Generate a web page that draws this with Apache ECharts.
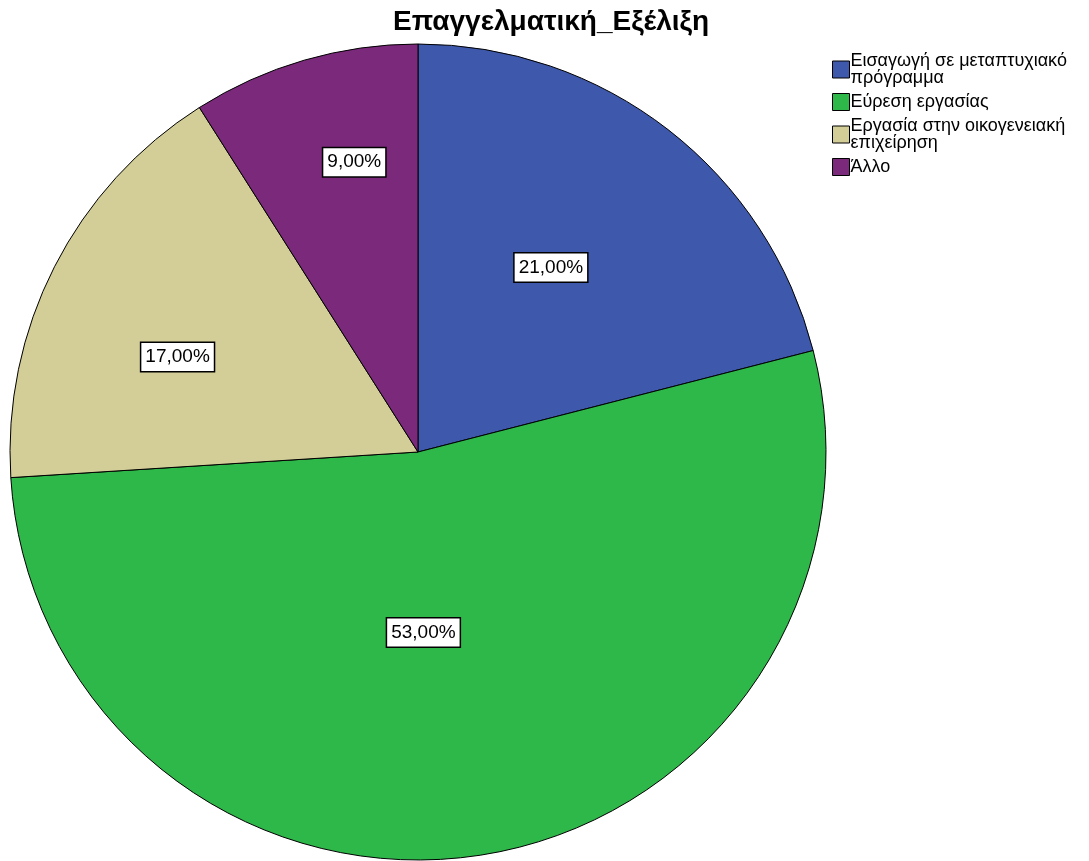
<!DOCTYPE html>
<html><head><meta charset="utf-8">
<script src="https://cdn.jsdelivr.net/npm/echarts@6/dist/echarts.min.js"></script>
<style>html,body{margin:0;padding:0;background:#fff}#c{width:1089px;height:861px}</style>
</head><body><div id="c"></div>
<script>
const title = 'Επαγγελματική_Εξέλιξη';
const categories = ['Εισαγωγή σε μεταπτυχιακό\nπρόγραμμα', 'Εύρεση εργασίας', 'Εργασία στην οικογενειακή\nεπιχείρηση', 'Άλλο'];
const values = [21, 53, 17, 9];
const colors = ['#3E58AC', '#2EB84A', '#D3CE97', '#7B2A7B'];
// label shift from the default inner position (layout only)
const labelShift = [[6, -21], [-27, -24], [-56, -1], [-6, -91]];

const R = 408, CX = 418, CY = 452;
const FONT = 'Liberation Sans, Arial, sans-serif';

const chart = echarts.init(document.getElementById('c'));
chart.setOption({
  animation: false,
  title: { text: title, left: 388, top: 3, textStyle: { fontFamily: FONT, fontWeight: 'bold', fontSize: 28, color: '#000' } },
  legend: {
    orient: 'vertical', left: 827, top: 47, itemWidth: 17, itemHeight: 17, itemGap: 6,
    icon: 'rect',
    itemStyle: { borderColor: '#000', borderWidth: 1 },
    textStyle: { fontFamily: FONT, fontSize: 18, color: '#000', lineHeight: 17, padding: [0, 0, 0, -4] },
    data: categories
  },
  series: [{
    type: 'pie', center: [CX, CY], radius: R, startAngle: 90, clockwise: true,
    itemStyle: { borderColor: '#000', borderWidth: 1 },
    label: {
      position: 'inner', formatter: p => p.value.toFixed(2).replace('.', ',') + '%',
      fontFamily: FONT, fontSize: 19, color: '#000',
      backgroundColor: '#fff', borderColor: '#000', borderWidth: 1.5, padding: [5, 4, 4, 4]
    },
    labelLayout: p => ({ dx: labelShift[p.dataIndex][0], dy: labelShift[p.dataIndex][1] }),
    emphasis: { disabled: true },
    data: categories.map((c, i) => ({ name: c, value: values[i], itemStyle: { color: colors[i] } }))
  }]
});
</script></body></html>
